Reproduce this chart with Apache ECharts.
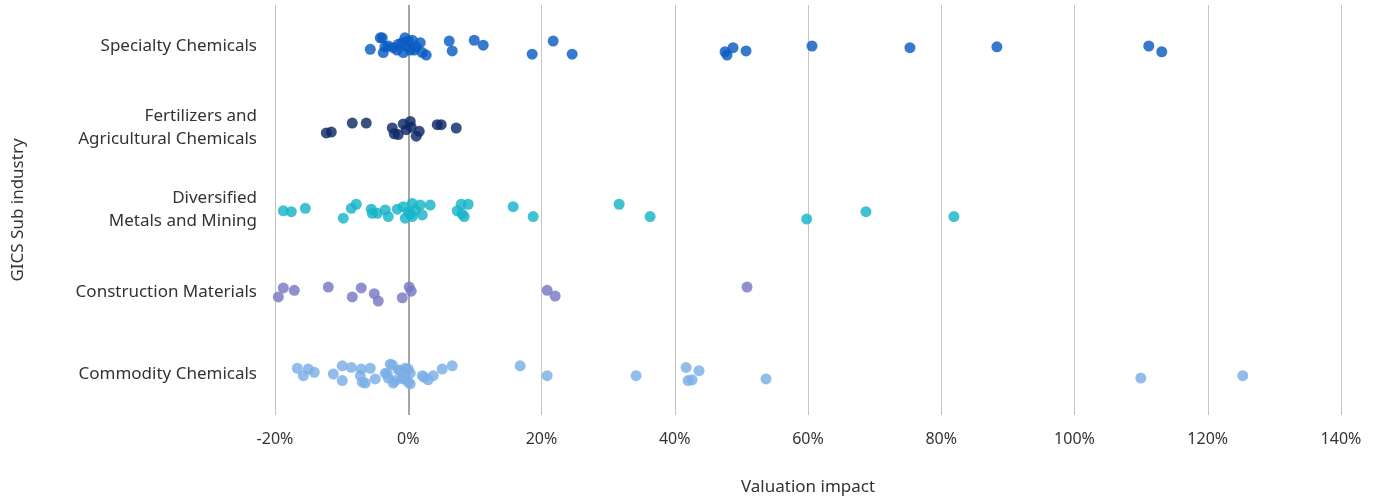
<!DOCTYPE html>
<html>
<head>
<meta charset="utf-8">
<script src="https://cdn.jsdelivr.net/npm/echarts@6/dist/echarts.min.js"></script>
<style>html,body{margin:0;padding:0;background:#fff}#c{width:1384px;height:497px}</style>
</head>
<body>
<div id="c"></div>
<script>
const categories = ['Specialty Chemicals', 'Fertilizers and\nAgricultural Chemicals', 'Diversified\nMetals and Mining', 'Construction Materials', 'Commodity Chemicals'];
const xTicks = [-20, 0, 20, 40, 60, 80, 100, 120, 140];

// [valuation impact %, vertical jitter within band]
const specialty = [[-5.7,0.04],[-4.2,-0.1],[-3.9,-0.1],[-3.75,0.08],[-3.5,0.01],[-3.0,0],[-2.25,0.02],[-1.7,0.05],[-1.5,-0.02],[-0.9,-0.04],[-0.75,0.08],[-0.5,-0.1],[-0.3,0],[0,-0.06],[0.3,0.05],[0.6,-0.07],[0.9,0.05],[1.2,0.01],[1.8,-0.04],[2.1,0.08],[2.7,0.11],[6.15,-0.06],[6.6,0.06],[9.9,-0.07],[11.25,-0.01],[18.6,0.1],[21.75,-0.06],[24.6,0.1],[47.55,0.07],[47.85,0.11],[48.75,0.02],[50.7,0.06],[60.6,0],[75.3,0.02],[88.35,0.01],[111.15,0],[113.1,0.07]];
const fertilizers = [[-12.3,0.06],[-11.55,0.05],[-8.4,-0.06],[-6.3,-0.06],[-2.4,0],[-2.1,0.07],[-1.5,0.08],[-0.75,-0.05],[-0.3,0.02],[0.3,-0.08],[0.45,-0.01],[1.2,0.1],[1.65,0.04],[4.35,-0.04],[4.95,-0.04],[7.2,0]];
const diversified = [[-18.75,0.01],[-17.55,0.02],[-15.45,-0.02],[-9.75,0.1],[-8.55,-0.02],[-7.8,-0.07],[-5.55,-0.01],[-5.4,0.04],[-4.65,0.04],[-3.45,0],[-3.0,0.08],[-1.65,-0.01],[-0.75,-0.04],[-0.45,0.1],[0,0.02],[0.3,0.05],[0.6,-0.08],[0.6,0.08],[1.05,0],[1.8,-0.06],[2.1,0.06],[3.3,-0.06],[7.35,0.01],[7.95,-0.07],[8.1,0.05],[8.4,0.08],[9.0,-0.07],[15.75,-0.04],[18.75,0.08],[31.65,-0.07],[36.3,0.08],[59.8,0.11],[68.7,0.02],[81.9,0.08]];
const construction = [[-19.5,0.06],[-18.75,-0.05],[-17.1,-0.02],[-12.0,-0.06],[-8.4,0.06],[-7.05,-0.05],[-5.1,0.02],[-4.5,0.11],[-0.9,0.07],[0.15,-0.06],[0.45,-0.01],[20.85,-0.02],[22.05,0.05],[50.85,-0.06]];
const commodity = [[-16.65,-0.07],[-15.75,0.02],[-15.0,-0.06],[-14.1,-0.02],[-11.25,0],[-9.9,-0.1],[-9.9,0.08],[-8.55,-0.08],[-7.05,-0.06],[-7.2,0.02],[-6.9,0.1],[-6.45,0.11],[-5.7,-0.07],[-4.95,0.06],[-3.45,-0.01],[-3.15,0],[-3.0,0.05],[-2.7,-0.12],[-2.4,-0.11],[-2.25,0.11],[-1.95,0.08],[-1.5,-0.05],[-1.2,-0.04],[-0.9,0.05],[-0.75,0.06],[-0.45,-0.07],[0,-0.06],[0,0.1],[0.3,0.12],[0.3,-0.01],[2.1,0.02],[2.4,0.04],[3.0,0.07],[3.75,0.02],[5.1,-0.06],[6.6,-0.1],[16.8,-0.1],[20.85,0.02],[34.2,0.02],[41.7,-0.08],[43.65,-0.04],[42.0,0.08],[42.6,0.07],[53.7,0.06],[109.95,0.05],[125.25,0.02]];

const seriesData = [specialty, fertilizers, diversified, construction, commodity];
const colors = ['#0a5cc2', '#0f2a68', '#17b4c8', '#7878c4', '#7aaee6'];

const chart = echarts.init(document.getElementById('c'), null, {renderer: 'canvas'});
const FONT = '"Noto Sans", sans-serif';

const series = seriesData.map((d, i) => ({
  type: 'scatter',
  name: categories[i],
  xAxisIndex: 0,
  yAxisIndex: 1,
  symbolSize: 11,
  itemStyle: {color: colors[i], opacity: 0.82},
  data: d.map(p => [p[0], i + 0.5 + p[1]]),
  z: 3
}));
series[0].markLine = {
  silent: true,
  symbol: 'none',
  label: {show: false},
  lineStyle: {color: '#a6a6a6', width: 2, type: 'solid'},
  data: [{xAxis: 0}],
  z: 1
};

chart.setOption({
  animation: false,
  grid: {left: 275, right: 43, top: 5, bottom: 82, containLabel: false, outerBoundsMode: 'none'},
  xAxis: {
    type: 'value',
    min: -20, max: 140, interval: 20,
    name: 'Valuation impact',
    nameLocation: 'middle',
    nameGap: 64,
    nameTextStyle: {fontFamily: FONT, fontSize: 17, color: '#333'},
    axisLine: {show: false},
    axisTick: {show: false},
    axisLabel: {fontFamily: FONT, fontSize: 16, color: '#333', margin: 16,
      formatter: v => xTicks.includes(v) ? v + '%' : ''},
    splitLine: {show: true, lineStyle: {color: '#c4c4c4', width: 1}}
  },
  yAxis: [{
    type: 'category',
    data: categories,
    inverse: true,
    name: 'GICS Sub industry',
    nameLocation: 'middle',
    nameGap: 248,
    nameRotate: 90,
    nameTextStyle: {fontFamily: FONT, fontSize: 17, color: '#333'},
    axisLine: {show: false},
    axisTick: {show: false},
    axisLabel: {fontFamily: FONT, fontSize: 17, color: '#333', margin: 18, lineHeight: 23, align: 'right'},
    splitLine: {show: false}
  }, {
    type: 'value',
    min: 0, max: 5,
    inverse: true,
    show: false,
    splitLine: {show: false}
  }],
  series: series
});
</script>
</body>
</html>
